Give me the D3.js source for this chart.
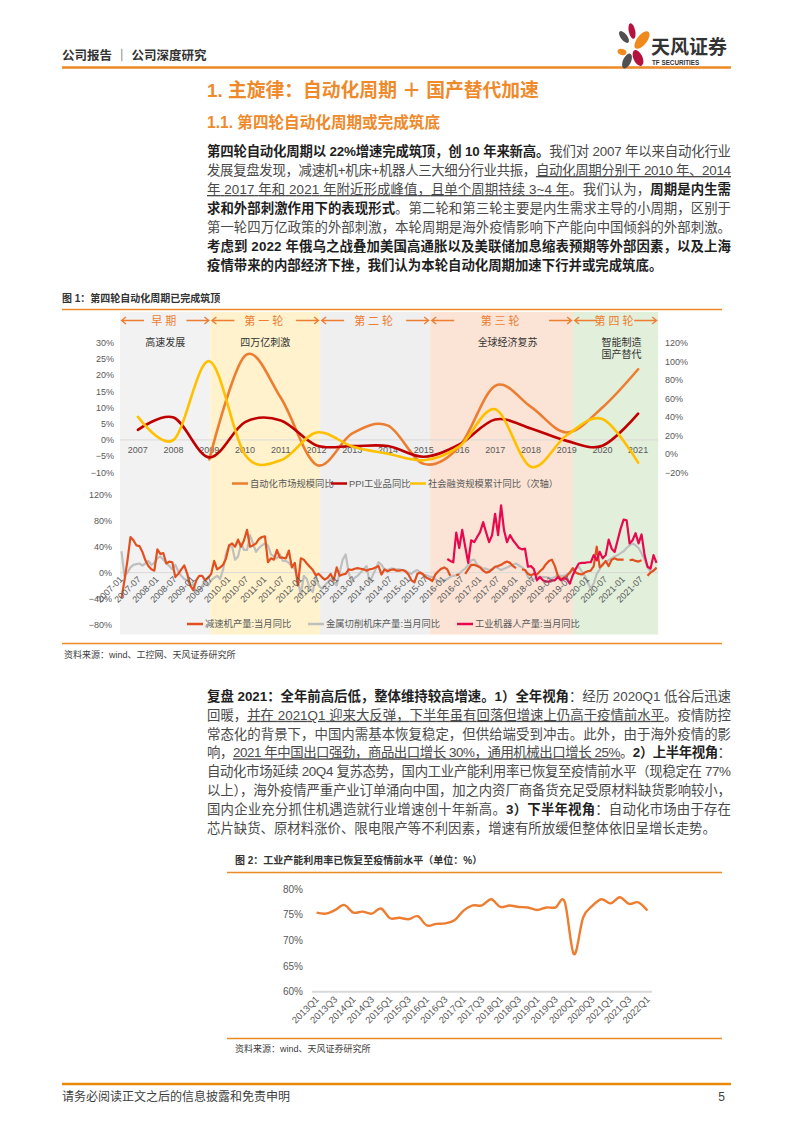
<!DOCTYPE html>
<html>
<head>
<meta charset="utf-8">
<script src="https://cdn.jsdelivr.net/npm/d3@7"></script>
<style>
body { margin: 0; background: #fff; }
svg text { font-family: "Liberation Sans", "Noto Sans CJK SC", sans-serif; }
</style>
</head>
<body>
<svg id="page" width="793" height="1122"></svg>
<script>
// ---------- data ----------
var topYears = [2007, 2008, 2009, 2010, 2011, 2012, 2013, 2014, 2015, 2016, 2017, 2018, 2019, 2020, 2021];
var autoMarket = [null, null, -6, 26, 13, -7.7, 2, 4.4, -7.4, -2, 16.7, 10.2, 2.3, 10, 21.8];
var ppi = [3.1, 6.9, -5.4, 5.5, 6.0, -1.7, -1.9, -1.9, -5.2, -1.4, 6.3, 3.5, -0.3, -1.8, 8.1];
var socialFin = [40, 15, 100, -1, -7, 23, 8, 0, -7, 8, 48, -14, 20, 37.5, -9.5];
var topLeftTicks = [-10, -5, 0, 5, 10, 15, 20, 25, 30];
var topRightTicks = [-20, 0, 20, 40, 60, 80, 100, 120];

var periods = ["早期", "第一轮", "第二轮", "第三轮", "第四轮"];
var periodEdges = [2006.5, 2009.03, 2012.1, 2015.18, 2019.18, 2021.56];
var periodNotes = [["高速发展"], ["四万亿刺激"], [], ["全球经济复苏"], ["智能制造", "国产替代"]];

var firstMonthYear = 2007, lastMonthYear = 2021;
// 减速机产量:当月同比 (monthly, 2007-01 .. 2021-12)
var reducer = [
  -40, -12, 19, 55, 50, 42, 41, 32, 19, 10, 5, 3,
  36, 29, 30, 14, 17, 16, -7, -2, 5, 11, -2, -20,
  -27, -12, -5, -5, -12, -8, -2, 18, 5, 8, 12, 22,
  42, 45, 40, 51, 40, 50, 66, 40, 42, 45, 52, 55,
  56, 16, 22, 20, 35, 23, 23, 22, 34, 8, 15, -20,
  22, 20, 14, 9, 4, -4, -2, -7, -11, -8, -2, -12,
  8, -5, -3, -2, 5, 4, 6, 7, 6, 5, 3, 5,
  6, 8, 10, -3, 5, 2, 4, 5, 3, 3, 4, 2,
  -3, -12, -15, -2, 0, -3, -8, -10, -13, -3, 2, 6,
  8, 5, -5, null, -4, -3, null, -2, 5, 12, 12, 10,
  8, 3, 0, 1, 5, 9, 10, 12, 15, 17, 15, 10,
  7, null, 5, 4, -2, -4, -2, -3, 2, 6, 13, 18,
  20, 10, -5, -10, -8, -5, 0, 7, 0, -2, -3, 0,
  2, 3, 10, 40, 8, 12, 18, 10, 20, 22, 20, 20,
  20, null, 19, 20, 18, 17, 19, null, -5, 0, 3, 8
];
// 金属切削机床产量:当月同比
var machineTool = [
  33, -5, 0, 8, 12, 13, 14, 11, 14, 18, 12, 15,
  22, 25, 20, 15, 10, 5, 12, 2, -5, -10, -12, -20,
  -18, -30, -28, -20, -15, -20, -12, -8, -5, -10, 5, 30,
  42, 40, 20, 25, 45, 35, 35, 58, 45, 32, 38, 42,
  45, 42, 28, 25, 22, 28, 18, 18, 15, 10, 5, -10,
  -35, -5, -10, -25, -30, -5, -20, -25, -20, -15, -10, -15,
  -20, 0, 20, 28, 0, -15, -8, -5, 0, 5, 10, -15,
  -5, 5, 16, 12, 5, 4, 6, 6, 5, 5, 4, 3,
  0, -2, 2, 4, 0, -4, -4, -6, -7, -10, -14, -13,
  -12, -10, -7, -5, -4, -2, 3, 6, 12, 19, 20, 12,
  9, 6, 6, 4, 5, 9, 7, 4, 6, 8, 10, 12,
  14, 11, 8, 4, -7, -12, -10, -7, -6, -7, -7, -8,
  -9, -7, -4, -5, -5, -3, 0, 4, 6, 9, 2, -5,
  -15, -25, -17, -2, 5, 14, 16, 19, 22, 25, 27, 30,
  33, 38, 42, 45, 42, 38, 30, 20, 8, 1, 3, 6
];
// 工业机器人产量:当月同比 (from 2016-02)
var robotStart = "2016-02";
var robot = [
  21, 18, 16, 62, 38, 66, 40, 15, 50, 47, 55,
  63, 78, 62, 47, 58, 91, 58, 104, 65, 47, 58, 50,
  44, 38, 36, 37, 9, 10, 5, -12, -7, -12, -14, -14,
  -12, -12, -7, -12, -9, -10, -17, -4, 6, 14, 15, 15,
  16, 16, 27, 19, 32, 22, 27, 51, 37, 32, 50, 68,
  82, 81, 45, 50, 61, 45, 59, 27, 9, 6, 27, 15
];
var bottomTicks = [-80, -40, 0, 40, 80, 120];

var quarters = ["2013Q1","2013Q2","2013Q3","2013Q4","2014Q1","2014Q2","2014Q3","2014Q4",
  "2015Q1","2015Q2","2015Q3","2015Q4","2016Q1","2016Q2","2016Q3","2016Q4",
  "2017Q1","2017Q2","2017Q3","2017Q4","2018Q1","2018Q2","2018Q3","2018Q4",
  "2019Q1","2019Q2","2019Q3","2019Q4","2020Q1","2020Q2","2020Q3","2020Q4",
  "2021Q1","2021Q2","2021Q3","2021Q4","2022Q1"];
var capacityUse = [75.4, 75.2, 75.9, 76.9, 75.4, 75.6, 75.2, 76.2, 74.3, 74.4, 74.1, 74.7,
  72.9, 73.2, 73.3, 73.9, 75.8, 76.8, 76.8, 78.0, 76.5, 76.8, 76.5, 76.4,
  75.9, 76.4, 76.4, 77.5, 67.3, 74.4, 76.7, 78.0, 77.2, 78.4, 77.1, 77.4, 75.8];
var capTicks = [60, 65, 70, 75, 80];

// ---------- page ----------
var svg = d3.select("#page");
var ORANGE = "#ED7D31", RULE = "#EC8A25", GREY_TXT = "#595959";

function txt(x, y, s, size, fill, weight, anchor) {
  return svg.append("text").attr("x", x).attr("y", y).attr("font-size", size)
    .attr("fill", fill).attr("font-weight", weight || 400)
    .attr("text-anchor", anchor || "start").text(s);
}
function rule(x1, x2, y, w, c) {
  svg.append("line").attr("x1", x1).attr("x2", x2).attr("y1", y).attr("y2", y)
    .attr("stroke", c || RULE).attr("stroke-width", w);
}

// header
txt(62, 60, "公司报告 ｜ 公司深度研究", 12.5, "#333", 700);
rule(62, 731, 67.5, 2.5);
var logo = svg.append("g");
[[632, 31, 3.2, 8, -12, "#B5123E"], [642, 40, 5, 10.5, 38, "#F08A1C"], [624, 37, 3.2, 7, -38, "#505050"],
 [622, 52, 4.5, 3, 15, "#F08A1C"], [627, 61, 4, 8, 25, "#505050"], [638, 58, 4.5, 8.5, -25, "#B5123E"]]
  .forEach(function(p) {
    logo.append("ellipse").attr("cx", 0).attr("cy", 0).attr("rx", p[2]).attr("ry", p[3])
      .attr("fill", p[5]).attr("transform", "translate(" + p[0] + "," + p[1] + ") rotate(" + p[4] + ")");
  });
txt(651, 54, "天风证券", 19, "#333", 700);
txt(652, 65, "TF SECURITIES", 6.3, "#333", 700);

// headings
txt(207, 97, "1. 主旋律：自动化周期 ＋ 国产替代加速", 18.8, "#EF8A2B", 700);
txt(207, 128, "1.1. 第四轮自动化周期或完成筑底", 15.6, "#EF8A2B", 700);

function para(lines, x, y0, dy, w) {
  lines.forEach(function(segs, i) {
    var t = svg.append("text").attr("x", x).attr("y", y0 + i * dy).attr("font-size", 13.4);
    if (i < lines.length - 1) t.attr("textLength", w).attr("lengthAdjust", "spacing");
    segs.forEach(function(s) {
      var ts = t.append("tspan").text(s[0])
        .attr("fill", s[1] == "b" ? "#1f1f1f" : "#4a4a4a")
        .attr("font-weight", s[1] == "b" ? 700 : 400);
      if (s[1] == "u") ts.style("text-decoration", "underline");
    });
  });
}

para([
  [["第四轮自动化周期以 22%增速完成筑顶，创 10 年来新高。", "b"], ["我们对 2007 年以来自动化行业", "n"]],
  [["发展复盘发现，减速机+机床+机器人三大细分行业共振，", "n"], ["自动化周期分别于 2010 年、2014", "u"]],
  [["年 2017 年和 2021 年附近形成峰值，且单个周期持续 3~4 年", "u"], ["。我们认为，", "n"], ["周期是内生需", "b"]],
  [["求和外部刺激作用下的表现形式", "b"], ["。第二轮和第三轮主要是内生需求主导的小周期，区别于", "n"]],
  [["第一轮四万亿政策的外部刺激，本轮周期是海外疫情影响下产能向中国倾斜的外部刺激。", "n"]],
  [["考虑到 2022 年俄乌之战叠加美国高通胀以及美联储加息缩表预期等外部因素，以及上海", "b"]],
  [["疫情带来的内部经济下挫，我们认为本轮自动化周期加速下行并或完成筑底。", "b"]]
], 207, 156, 19, 524);

// ---------- figure 1 ----------
txt(62, 302, "图 1：第四轮自动化周期已完成筑顶", 10, "#333", 700);
rule(62, 722, 309.5, 1.5);

var xYear = d3.scaleLinear().domain([2006.5, 2021.5]).range([120, 656]);
var bandTop = 312, bandBot = 634.5;
var bandFill = ["#F2F2F2", "#FFF2CC", "#EFEFEF", "#FBE4D5", "#E2EFDA"];
periods.forEach(function(p, i) {
  var x0 = xYear(periodEdges[i]), x1 = xYear(periodEdges[i + 1]);
  svg.append("rect").attr("x", x0).attr("y", bandTop).attr("width", x1 - x0)
    .attr("height", bandBot - bandTop).attr("fill", bandFill[i]);
});
periods.forEach(function(p, i) {
  var x0 = xYear(periodEdges[i]), x1 = xYear(periodEdges[i + 1]), cx = (x0 + x1) / 2, ay = 320.5;
  var g = svg.append("g").attr("stroke", ORANGE).attr("stroke-width", 1.3).attr("fill", "none");
  g.append("path").attr("d", "M" + (x0 + 1.5) + "," + ay + "H" + (x0 + 24) + "M" + (x0 + 6) + "," + (ay - 3.5) + "L" + (x0 + 1.5) + "," + ay + "L" + (x0 + 6) + "," + (ay + 3.5));
  g.append("path").attr("d", "M" + (x1 - 1.5) + "," + ay + "H" + (x1 - 24) + "M" + (x1 - 6) + "," + (ay - 3.5) + "L" + (x1 - 1.5) + "," + ay + "L" + (x1 - 6) + "," + (ay + 3.5));
  svg.append("text").attr("x", cx).attr("y", 324.5).attr("text-anchor", "middle")
    .attr("font-size", 11).attr("letter-spacing", 3).attr("fill", ORANGE)
    .style("font-family", "'Noto Sans CJK SC'").text(p);
  var nx = cx + (i >= 3 ? 6 : 0);
  periodNotes[i].forEach(function(n, j) {
    txt(nx, 346 + j * 11.5, n, 10, "#333", 400, "middle");
  });
});

// top chart
var yL = d3.scaleLinear().domain([-10, 30]).range([472.3, 342.7]);
var yR = d3.scaleLinear().domain([-20, 120]).range([472.3, 342.7]);
var pct = function(d) { return (d < 0 ? "−" + (-d) : d) + "%"; };

svg.append("line").attr("x1", 120).attr("x2", 658).attr("y1", yL(0)).attr("y2", yL(0))
  .attr("stroke", "#D9D9D9").attr("stroke-width", 1);

function styleAxis(g) {
  g.select(".domain").remove();
  g.selectAll("text").attr("fill", GREY_TXT).attr("font-size", 9)
    .style("font-family", "'Liberation Sans', sans-serif");
}
svg.append("g").attr("transform", "translate(120,0)")
  .call(d3.axisLeft(yL).tickValues(topLeftTicks).tickFormat(pct).tickSize(0).tickPadding(6)).call(styleAxis);
svg.append("g").attr("transform", "translate(658,0)")
  .call(d3.axisRight(yR).tickValues(topRightTicks).tickFormat(pct).tickSize(0).tickPadding(7)).call(styleAxis);

svg.append("g").selectAll("text").data(topYears).enter().append("text")
  .attr("x", function(d) { return xYear(d); }).attr("y", 452.5).attr("text-anchor", "middle")
  .attr("font-size", 9).attr("fill", GREY_TXT).text(function(d) { return d; });

function smoothLine(vals, y, color) {
  var line = d3.line().defined(function(d) { return d != null; })
    .x(function(d, i) { return xYear(topYears[i]); }).y(function(d) { return y(d); })
    .curve(d3.curveCardinal.tension(0));
  svg.append("path").datum(vals).attr("d", line).attr("fill", "none")
    .attr("stroke", color).attr("stroke-width", 2.6).attr("stroke-linecap", "round");
}
smoothLine(autoMarket, yL, "#ED7D31");
smoothLine(ppi, yL, "#C00000");
smoothLine(socialFin, yR, "#FFC000");

function legend(items, y) {
  items.forEach(function(it) {
    svg.append("line").attr("x1", it[0]).attr("x2", it[0] + 16).attr("y1", y).attr("y2", y)
      .attr("stroke", it[2]).attr("stroke-width", 2.5);
    txt(it[0] + 18, y + 3.3, it[1], 9.3, GREY_TXT);
  });
}
legend([[232, "自动化市场规模同比", "#ED7D31"], [331, "PPI工业品同比", "#C00000"],
        [410, "社会融资规模累计同比（次轴）", "#FFC000"]], 483.5);

// bottom chart
var months = [];
for (var yy = firstMonthYear; yy <= lastMonthYear; yy++)
  for (var mm = 1; mm <= 12; mm++) months.push(yy + "-" + (mm < 10 ? "0" : "") + mm);
var xM = d3.scalePoint().domain(months).range([120, 658]).padding(0.5);
var yB = d3.scaleLinear().domain([-80, 120]).range([624.3, 495]);

svg.append("line").attr("x1", 120).attr("x2", 658).attr("y1", yB(0)).attr("y2", yB(0))
  .attr("stroke", "#D9D9D9").attr("stroke-width", 1);
svg.append("g").attr("transform", "translate(120,0)")
  .call(d3.axisLeft(yB).tickValues(bottomTicks).tickFormat(pct).tickSize(0).tickPadding(8)).call(styleAxis);

var robotFull = months.map(function(m) {
  var k = months.indexOf(robotStart);
  var i = months.indexOf(m) - k;
  return i >= 0 && i < robot.length ? robot[i] : null;
});
function monthLine(vals, color, w) {
  var line = d3.line().defined(function(d) { return d != null; })
    .x(function(d, i) { return xM(months[i]); }).y(function(d) { return yB(d); });
  svg.append("path").datum(vals).attr("d", line).attr("fill", "none")
    .attr("stroke", color).attr("stroke-width", w).attr("stroke-linejoin", "round");
}
monthLine(machineTool, "#BFBFBF", 2.2);
monthLine(reducer, "#E2501F", 2.2);
monthLine(robotFull, "#E8084E", 2.2);

svg.append("g").selectAll("text").data(months.filter(function(m, i) { return i % 6 == 0; }))
  .enter().append("text")
  .attr("transform", function(d) { return "translate(" + (xM(d) + 2) + ",580) rotate(-45)"; })
  .attr("text-anchor", "end").attr("font-size", 9).attr("fill", GREY_TXT).text(function(d) { return d; });

legend([[187, "减速机产量:当月同比", "#E2501F"], [308, "金属切削机床产量:当月同比", "#BFBFBF"],
        [457, "工业机器人产量:当月同比", "#E8084E"]], 624);

rule(62, 722, 643.5, 1.5);
txt(64, 658, "资料来源：wind、工控网、天风证券研究所", 9, "#404040");

// paragraph 2
para([
  [["复盘 2021：全年前高后低，整体维持较高增速。1）全年视角", "b"], ["：经历 2020Q1 低谷后迅速", "n"]],
  [["回暖，", "n"], ["并在 2021Q1 迎来大反弹，下半年虽有回落但增速上仍高于疫情前水平", "u"], ["。疫情防控", "n"]],
  [["常态化的背景下，中国内需基本恢复稳定，但供给端受到冲击。此外，由于海外疫情的影", "n"]],
  [["响，", "n"], ["2021 年中国出口强劲，商品出口增长 30%，通用机械出口增长 25%", "u"], ["。", "n"], ["2）上半年视角", "b"], ["：", "n"]],
  [["自动化市场延续 20Q4 复苏态势，国内工业产能利用率已恢复至疫情前水平（现稳定在 77%", "n"]],
  [["以上），海外疫情严重产业订单涌向中国，加之内资厂商备货充足受原材料缺货影响较小，", "n"]],
  [["国内企业充分抓住机遇造就行业增速创十年新高。", "n"], ["3）下半年视角", "b"], ["：自动化市场由于存在", "n"]],
  [["芯片缺货、原材料涨价、限电限产等不利因素，增速有所放缓但整体依旧呈增长走势。", "n"]]
], 207, 701, 18.8, 524);

// ---------- figure 2 ----------
txt(235, 864, "图 2：工业产能利用率已恢复至疫情前水平（单位：%）", 10, "#333", 700);
rule(227, 722, 872.5, 1.5);

var xQ = d3.scalePoint().domain(quarters).range([312, 652]).padding(0.5);
var yQ = d3.scaleLinear().domain([60, 80]).range([991.7, 889]);
svg.append("line").attr("x1", 312).attr("x2", 652).attr("y1", yQ(60)).attr("y2", yQ(60))
  .attr("stroke", "#D9D9D9").attr("stroke-width", 2);
svg.append("g").attr("transform", "translate(312,0)")
  .call(d3.axisLeft(yQ).tickValues(capTicks).tickFormat(function(d) { return d + "%"; }).tickSize(0).tickPadding(9))
  .call(function(g) {
    g.select(".domain").remove();
    g.selectAll("text").attr("fill", GREY_TXT).attr("font-size", 10);
  });
svg.append("path").datum(capacityUse)
  .attr("d", d3.line().x(function(d, i) { return xQ(quarters[i]); }).y(function(d) { return yQ(d); })
    .curve(d3.curveCardinal.tension(0)))
  .attr("fill", "none").attr("stroke", ORANGE).attr("stroke-width", 2.4);
svg.append("g").selectAll("text").data(quarters.filter(function(q, i) { return i % 2 == 0; }))
  .enter().append("text")
  .attr("transform", function(d) { return "translate(" + (xQ(d) + 3) + ",1000) rotate(-45)"; })
  .attr("text-anchor", "end").attr("font-size", 9.5).attr("fill", GREY_TXT).text(function(d) { return d; });

rule(227, 722, 1038.5, 1.5);
txt(235, 1052, "资料来源：wind、天风证券研究所", 9, "#404040");

// footer
rule(62, 731, 1084, 2.5, "#E8890C");
txt(62, 1101, "请务必阅读正文之后的信息披露和免责申明", 12, "#404040");
txt(725, 1101, "5", 12, "#404040", 400, "end");
</script>
</body>
</html>
